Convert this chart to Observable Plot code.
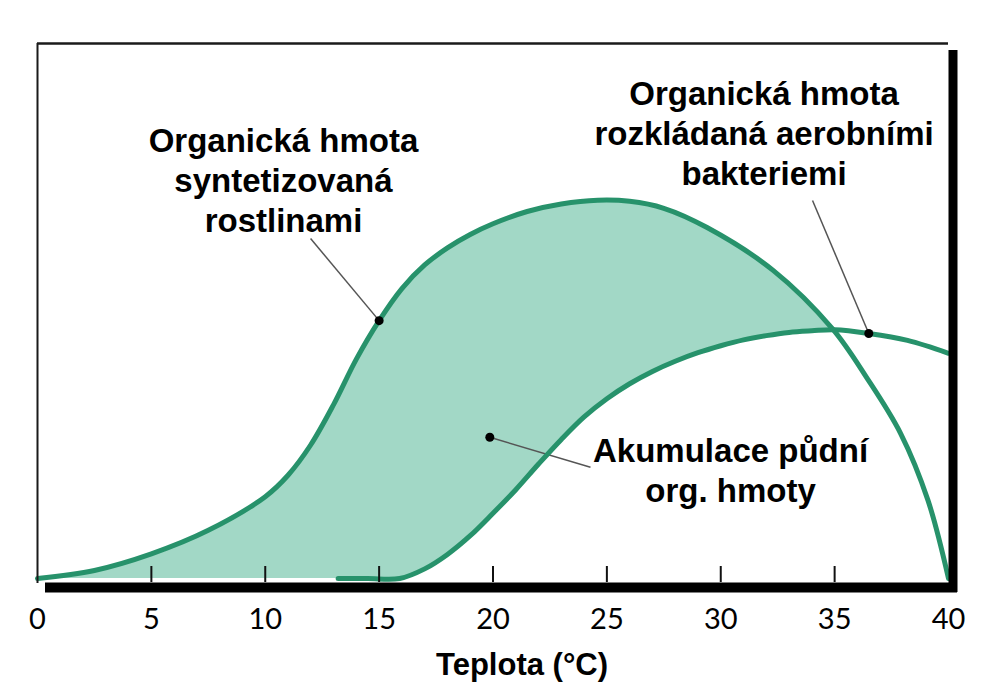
<!DOCTYPE html>
<html><head><meta charset="utf-8">
<script src="https://cdn.jsdelivr.net/npm/d3@7"></script>
<script src="https://cdn.jsdelivr.net/npm/@observablehq/plot@0.6"></script>
<style>html,body{margin:0;padding:0;background:#fff;}</style>
</head><body><div id="chart"></div>
<script>
// Domains and tick labels
const xDomain = [0, 40];
const yDomain = [0, 100];
const xTickLabels = [0, 5, 10, 15, 20, 25, 30, 35, 40];
const xTickMarks = [5, 10, 15, 20, 25, 30, 35];
const xLabel = "Teplota (°C)";

// Organic matter synthesized by plants (upper curve)
const synthT = [0, 2.5, 5, 7.5, 10, 11, 12, 13, 14, 15, 16, 17, 18, 19, 20, 21.5, 23, 24.6, 26, 27.5, 29.4, 32.3, 34.9, 36.4, 37.9, 39.1, 40];
const synthV = [0, 1.5, 4.6, 9.0, 15.3, 19.3, 25.0, 32.5, 41.0, 48.2, 54.2, 58.6, 61.8, 64.3, 66.3, 68.6, 70.0, 70.7, 70.5, 69.2, 65.6, 57.6, 46.7, 37.6, 27.1, 14.6, 0];

// Organic matter decomposed by aerobic bacteria (lower curve)
const decompT = [13.2, 14.5, 15.9, 17, 18, 19, 20, 21, 22, 23, 24, 25, 26, 27, 28, 29, 30, 31, 32, 33, 34, 35, 36.5, 38.2, 40];
const decompV = [0, 0, 0, 1.8, 4.5, 8.0, 12.2, 16.6, 21.4, 26.0, 30.2, 33.6, 36.4, 38.7, 40.6, 42.2, 43.5, 44.6, 45.4, 46.0, 46.3, 46.5, 45.8, 44.5, 42.1];

// Annotations
const annotText = ["Organická hmota\nsyntetizovaná\nrostlinami", "Organická hmota\nrozkládaná aerobními\nbakteriemi", "Akumulace půdní\norg. hmoty"];
const annotT = [10.8, 31.9, 30.43];
const annotV = [64.7, 73.5, 14.3];
const leaderFromT = [11.99, 34.03, 24.28];
const leaderFromV = [63.55, 70.65, 20.8];
const leaderToT = [15, 36.5, 19.86];
const leaderToV = [48.2, 45.8, 26.4];

const lineColor = "#27926b";
const fillColor = "#a2d8c6";
const curve = "catmull-rom";

const synth = synthT.map((t, i) => ({t, v: synthV[i]}));
const decomp = decompT.map((t, i) => ({t, v: decompV[i]}));
const annots = annotText.map((text, i) => ({text, t: annotT[i], v: annotV[i]}));
const leaders = leaderFromT.map((t, i) => ({t1: t, v1: leaderFromV[i], t2: leaderToT[i], v2: leaderToV[i]}));

const chart = Plot.plot({
  width: 984, height: 699,
  marginLeft: 37, marginRight: 36, marginTop: 43, marginBottom: 121,
  x: {domain: xDomain},
  y: {domain: yDomain, axis: null},
  style: {background: "#fff", overflow: "visible"},
  marks: [
    Plot.areaY(synth, {x: "t", y: "v", fill: fillColor, curve}),
    Plot.areaY(decomp, {x: "t", y: "v", fill: "#fff", curve}),
    Plot.link(leaders, {x1: "t1", y1: "v1", x2: "t2", y2: "v2", stroke: "#555", strokeWidth: 1.5}),
    Plot.line(decomp, {x: "t", y: "v", stroke: lineColor, strokeWidth: 5, curve}),
    Plot.line(synth, {x: "t", y: "v", stroke: lineColor, strokeWidth: 5, curve}),
    Plot.dot(leaders, {x: "t2", y: "v2", r: 4.5, fill: "#000"}),
    Plot.text(annots, {x: "t", y: "v", text: "text", fontSize: 33, fontWeight: "bold", fontFamily: "Liberation Sans, Arial, sans-serif", lineAnchor: "bottom", lineHeight: 1.212, textAnchor: "middle", fill: "#000"}),
    // tick marks pointing inward
    Plot.ruleX(xTickMarks, {x: d => d, y1: yDomain[0], y2: yDomain[0], insetTop: -12, insetBottom: -4, stroke: "#111", strokeWidth: 2}),
    // frame
    Plot.ruleY([yDomain[1]], {stroke: "#1a1a1a", strokeWidth: 2.5}),
    Plot.ruleX([xDomain[0]], {stroke: "#1a1a1a", strokeWidth: 2, insetBottom: -5}),
    Plot.ruleX([xDomain[1]], {stroke: "#000", strokeWidth: 9, dx: 4.5, insetTop: 7, insetBottom: -14}),
    Plot.ruleY([yDomain[0]], {stroke: "#000", strokeWidth: 10, dy: 9, insetLeft: 8, insetRight: -9}),
    Plot.axisX({ticks: xTickLabels, tickSize: 0, tickPadding: 50, lineAnchor: "bottom", fontSize: 29, fontFamily: "Lato, sans-serif", label: null, fill: "#000"}),
    Plot.text([xLabel], {frameAnchor: "bottom", dx: 29, dy: 96, lineAnchor: "bottom", fontSize: 31, fontWeight: "bold", fontFamily: "Liberation Sans, Arial, sans-serif", fill: "#000"})
  ]
});
document.getElementById("chart").appendChild(chart);
</script>
</body></html>
